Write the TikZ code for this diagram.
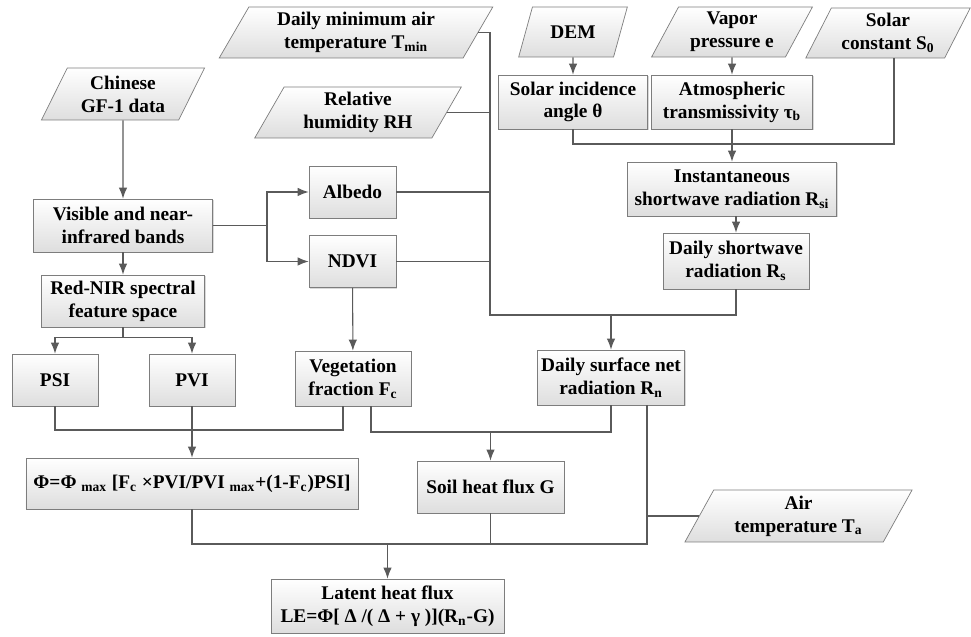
\documentclass[tikz,border=0pt]{standalone}
\usepackage{fontspec}
\setmainfont{Liberation Serif}
\usepackage{tikz}
\usepackage{xcolor}
\usetikzlibrary{shapes.geometric, arrows.meta, positioning, calc, shadows}
\definecolor{cLine}{RGB}{125,125,125}
\definecolor{cConn}{RGB}{90,90,90}
\definecolor{cFill}{RGB}{222,222,222}
\tikzset{
	databox/.style ={trapezium, trapezium left angle=63, trapezium right angle=117, trapezium stretches=true, draw=cLine, top color=white, bottom color=cFill, align=center, minimum height=1.02cm, inner sep=1pt},
	procbox/.style ={rectangle, draw=cLine, top color=white, bottom color=cFill, align=center, minimum height=1.04cm, inner sep=2pt, drop shadow={shadow xshift=0.7pt, shadow yshift=-0.7pt, opacity=0.3}},
	flowline/.style ={draw=cConn, line width=0.6pt},
	flowarrow/.style={flowline, -{Latex[length=2.2mm, width=1.7mm]}},
}
\begin{document}
\begin{tikzpicture}[every node/.style={font=\fontsize{11}{13}\selectfont\bfseries}]
	\useasboundingbox (0,0) rectangle (19.42,-12.74);
	\node[databox, minimum width=5.48cm] (tmin) at (7.12,-0.65) {Daily minimum air\\ temperature T\textsubscript{min}};
	\node[databox, minimum width=3.28cm, minimum height=1.04cm] (gf) at (2.46,-1.88) {Chinese\\ GF-1 data};
	\node[databox, minimum width=4.16cm] (rh) at (7.16,-2.25) {Relative\\ humidity RH};
	\node[databox, minimum width=2.18cm, minimum height=1.0cm] (dem) at (11.46,-0.64) {DEM};
	\node[databox, minimum width=3.22cm, minimum height=1.0cm] (vap) at (14.64,-0.64) {Vapor\\ pressure e};
	\node[databox, minimum width=3.3cm, minimum height=1.0cm] (s0) at (17.76,-0.66) {Solar\\ constant S\textsubscript{0}};
	\node[procbox, minimum width=2.98cm, minimum height=1.08cm] (sinc) at (11.46,-2.04) {Solar incidence\\ angle θ};
	\node[procbox, minimum width=3.22cm, minimum height=1.08cm] (atm) at (14.64,-2.04) {Atmospheric\\ transmissivity τ\textsubscript{b}};
	\node[procbox, minimum width=4.18cm, minimum height=1.08cm] (inst) at (14.64,-3.78) {Instantaneous\\ shortwave radiation R\textsubscript{si}};
	\node[procbox, minimum width=2.92cm, minimum height=1.12cm] (dsw) at (14.72,-5.22) {Daily shortwave\\ radiation R\textsubscript{s}};
	\node[procbox, minimum width=3.58cm, minimum height=1.06cm] (vis) at (2.46,-4.51) {Visible and near-\\ infrared bands};
	\node[procbox, minimum width=1.74cm] (alb) at (7.05,-3.84) {Albedo};
	\node[procbox, minimum width=1.74cm] (ndvi) at (7.05,-5.23) {NDVI};
	\node[procbox, minimum width=3.26cm] (rnir) at (2.46,-6.02) {Red-NIR spectral\\ feature space};
	\node[procbox, minimum width=1.72cm] (psi) at (1.10,-7.6) {PSI};
	\node[procbox, minimum width=1.72cm] (pvi) at (3.84,-7.6) {PVI};
	\node[procbox, minimum width=2.32cm, minimum height=1.1cm] (fc) at (7.06,-7.57) {Vegetation\\ fraction F\textsubscript{c}};
	\node[procbox, minimum width=2.94cm, minimum height=1.1cm] (rn) at (12.22,-7.55) {Daily surface net\\ radiation R\textsubscript{n}};
	\node[procbox, minimum width=6.64cm, minimum height=1.02cm] (phi) at (3.84,-9.67) {Φ=Φ \textsubscript{max} [F\textsubscript{c} ×PVI/PVI \textsubscript{max}+(1-F\textsubscript{c})PSI]};
	\node[procbox, minimum width=2.94cm] (soil) at (9.81,-9.74) {Soil heat flux G};
	\node[procbox, minimum width=4.66cm, minimum height=1.08cm] (le) at (7.75,-12.12) {Latent heat flux\\ LE=Φ[ Δ /( Δ + γ )](R\textsubscript{n}-G)};
	\node[databox, minimum width=4.58cm, minimum height=1.04cm] (air) at (15.97,-10.32) {Air\\ temperature T\textsubscript{a}};
	\coordinate (bus) at (9.8,-6.3);
	\coordinate (split) at (5.34,-4.51);
	\coordinate (j1) at (3.84,-8.6);
	\coordinate (j2) at (9.81,-8.64);
	\coordinate (j3) at (12.94,-10.88);
	\coordinate (j4) at (14.64,-2.88);
	\draw[flowline] (tmin.east) -| (bus) -| (dsw.south);
	\draw[flowline] (rh.east) -- (rh.east -| bus);
	\draw[flowline] (alb.east) -- (alb.east -| bus);
	\draw[flowline] (ndvi.east) -- (ndvi.east -| bus);
	\draw[flowarrow] (bus -| rn.north) -- (rn.north);
	\draw[flowarrow] (gf) -- (vis);
	\draw[flowarrow] (vis.east) -- (split) |- (alb.west);
	\draw[flowarrow] (split) |- (ndvi.west);
	\draw[flowarrow] (vis) -- (rnir);
	\draw[flowarrow] (rnir.south) -- ++(0,-0.2) -| (psi.north);
	\draw[flowarrow] (rnir.south) -- ++(0,-0.2) -| (pvi.north);
	\draw[flowarrow] (ndvi) -- (fc);
	\draw[flowline] (psi.south) |- (j1) -| ([xshift=-0.2cm]fc.south);
	\draw[flowarrow] (pvi) -- (phi);
	\draw[flowline] ([xshift=0.36cm]fc.south) |- (j2) -| (rn.south);
	\draw[flowarrow] (j2) -- (soil.north);
	\draw[flowline] ([xshift=0.72cm]rn.south) -- (j3) -| (phi.south);
	\draw[flowline] (air.west) -- (air.west -| j3);
	\draw[flowline] (soil.south) -- (soil.south |- j3);
	\draw[flowarrow] (le.north |- j3) -- (le.north);
	\draw[flowarrow] (dem) -- (sinc);
	\draw[flowarrow] (vap) -- (atm);
	\draw[flowline] ([xshift=0.12cm]s0.south) |- (j4) -| (sinc.south);
	\draw[flowarrow] (atm) -- (inst);
	\draw[flowarrow] (inst.south -| dsw.north) -- (dsw.north);
\end{tikzpicture}
\end{document}
